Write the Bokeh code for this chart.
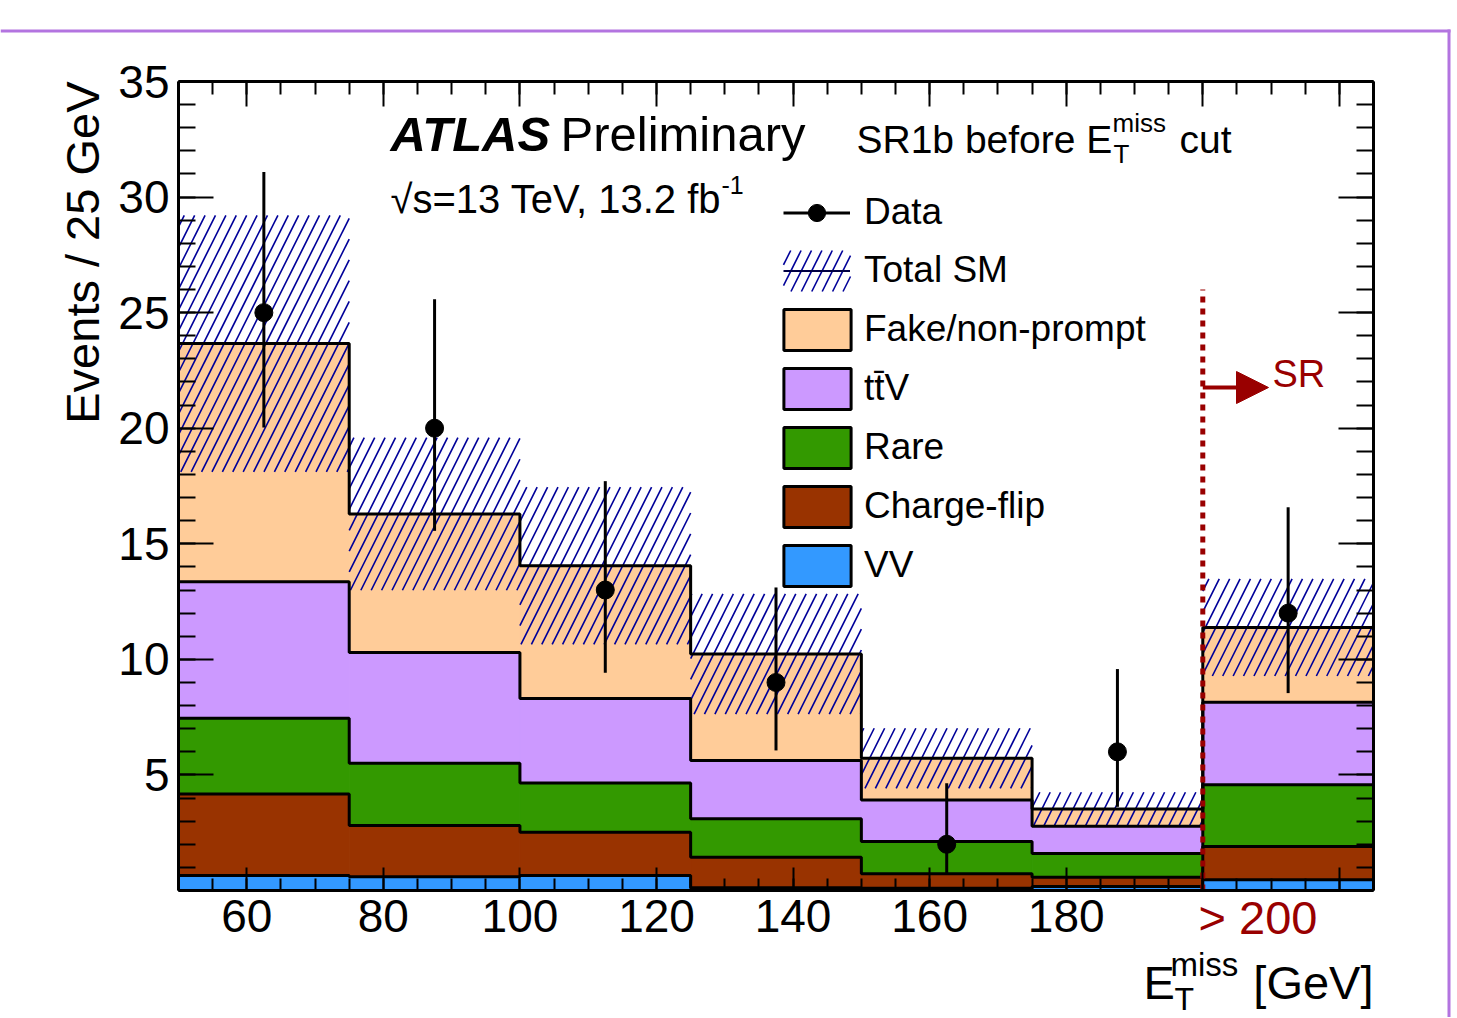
import numpy as np
from bokeh.plotting import figure
from bokeh.models import (FixedTicker, LinearAxis, Label, Legend, LegendItem,
                          Arrow, NormalHead, BoxAnnotation, Range1d, ColumnDataSource)
from bokeh.embed import file_html
from bokeh.resources import INLINE

# ---------------- data ----------------
bin_edges = [50, 75, 100, 125, 150, 175, 200, 225]
vv          = [0.65, 0.60, 0.65, 0.12, 0.10, 0.17, 0.46]
charge_flip = [3.53, 2.21, 1.87, 1.32, 0.62, 0.40, 1.44]
rare        = [3.27, 2.69, 2.13, 1.66, 1.40, 1.03, 2.68]
ttv         = [5.91, 4.80, 3.66, 2.52, 1.80, 1.18, 3.56]
fake        = [10.30, 5.99, 5.74, 4.61, 1.80, 0.75, 3.24]
sm_unc      = [5.55, 3.30, 3.40, 2.60, 1.30, 0.72, 2.10]
data_counts = [25, 20, 13, 9, 2, 6, 12]
data_err_up = [6.08, 5.58, 4.71, 4.11, 2.64, 3.58, 4.58]
data_err_dn = [4.97, 4.44, 3.58, 2.94, 1.29, 2.38, 3.46]
x_tick_labels = {60: "60", 80: "80", 100: "100", 120: "120", 140: "140",
                 160: "160", 180: "180", 200: "", 220: ""}
y_tick_labels = {0: "", 5: "5", 10: "10", 15: "15", 20: "20", 25: "25", 30: "30", 35: "35"}
sr_edge = 200
sr_line_top = 26.0
X_MIN, X_MAX, Y_MIN, Y_MAX = 50, 225, 0, 35

FONT = "Liberation Sans"
comp_names = ["VV", "Charge-flip", "Rare", "t\u0074\u0304V", "Fake/non-prompt"]
comp_vals = [vv, charge_flip, rare, ttv, fake]
comp_colors = ["#3399ff", "#993300", "#339900", "#cc99ff", "#ffcc99"]
HATCH = "#000099"
RED = "#990000"

edges = np.array(bin_edges, dtype=float)
left, right = edges[:-1], edges[1:]
centers = 0.5 * (left + right)

# canvas and the drawn frame position (pixels)
W, H = 1452, 1017
FL, FR, FT, FB = 178.0, 1373.0, 81.0, 890.0
SX = (FR - FL) / (X_MAX - X_MIN)
SY = (FB - FT) / (Y_MAX - Y_MIN)
def px2x(px):
    return X_MIN + (np.asarray(px) - FL) / SX
def px2y(py):
    return Y_MIN + (FB - np.asarray(py)) / SY
def x2px(x):
    return FL + (np.asarray(x) - X_MIN) * SX
def y2px(y):
    return FB - (np.asarray(y) - Y_MIN) * SY

p = figure(width=W, height=H, x_range=Range1d(float(px2x(0)), float(px2x(W))),
           y_range=Range1d(float(px2y(H)), float(px2y(0))),
           output_backend="svg", toolbar_location=None,
           min_border_left=0, min_border_right=0, min_border_top=0, min_border_bottom=0)
p.grid.visible = False
p.outline_line_color = None
p.background_fill_color = "white"
p.border_fill_color = "white"

xt = FixedTicker(ticks=list(np.arange(60, 221, 20)), minor_ticks=list(np.arange(50, 226, 5)))
yt = FixedTicker(ticks=list(np.arange(0, 36, 5)), minor_ticks=list(np.arange(0, 36, 1)))

def style_axis(ax, ticker, maj, mnr, loc, bounds, labels=True):
    ax.ticker = ticker
    ax.fixed_location = loc
    ax.bounds = bounds
    ax.axis_line_width = 3
    ax.axis_line_color = "black"
    ax.major_tick_in = maj
    ax.major_tick_out = 0
    ax.minor_tick_in = mnr
    ax.minor_tick_out = 0
    ax.major_tick_line_width = 2
    ax.minor_tick_line_width = 2
    ax.major_tick_line_color = "black"
    ax.minor_tick_line_color = "black"
    ax.major_label_text_font = FONT
    if labels:
        ax.major_label_text_font_size = "46px"
        ax.major_label_text_color = "black"
    else:
        ax.major_label_text_font_size = "1px"
        ax.major_label_text_color = None

style_axis(p.xaxis[0], xt, 23, 12, Y_MIN, (X_MIN, X_MAX))
p.xaxis[0].major_label_overrides = x_tick_labels
p.xaxis[0].major_label_standoff = 9
style_axis(p.yaxis[0], yt, 35, 17, X_MIN, (Y_MIN, Y_MAX))
p.yaxis[0].major_label_overrides = y_tick_labels
p.yaxis[0].major_label_standoff = 9

top_ax = LinearAxis()
style_axis(top_ax, xt, 25, 13, Y_MAX, (X_MIN, X_MAX), labels=False)
p.add_layout(top_ax, "above")
right_ax = LinearAxis()
style_axis(right_ax, yt, 35, 17, X_MAX, (Y_MIN, Y_MAX), labels=False)
p.add_layout(right_ax, "right")

# ROOT-style steep "/" hatch: segments clipped to pixel rectangles, converted to data units
HATCH_D = 10.4
def hatch_lines(X0, X1, Ptop, Pbot):
    segs = []
    k0 = int(np.floor((X0 + Ptop / 2) / HATCH_D))
    k1 = int(np.ceil((X1 + Pbot / 2) / HATCH_D))
    for k in range(k0, k1 + 1):
        u = k * HATCH_D
        a = max(Ptop, 2 * (u - X1))
        b = min(Pbot, 2 * (u - X0))
        if b > a:
            segs.append((u - a / 2, a, u - b / 2, b))
    return segs

# ---------------- stack ----------------
cum = np.zeros(len(centers))
levels = []
for vals, col in zip(comp_vals, comp_colors):
    v = np.array(vals)
    p.quad(left=left, right=right, bottom=cum.copy(), top=cum + v,
           fill_color=col, line_color=col, line_width=1)
    cum = cum + v
    levels.append(cum.copy())

total = cum.copy()
unc = np.array(sm_unc)
band_lo, band_hi = total - unc, total + unc
segs = []
for i in range(len(centers)):
    segs += hatch_lines(float(x2px(left[i])), float(x2px(right[i])),
                        float(y2px(band_hi[i])), float(y2px(band_lo[i])))
segs = np.array(segs)
p.segment(x0=px2x(segs[:, 0]), y0=px2y(segs[:, 1]), x1=px2x(segs[:, 2]), y1=px2y(segs[:, 3]),
          line_color=HATCH, line_width=1.6)

for lev in levels:
    p.step(x=edges, y=np.append(lev, lev[-1]), mode="after", line_color="black", line_width=3)

# ---------------- data ----------------
dc = np.array(data_counts, dtype=float)
src = ColumnDataSource(dict(x=centers, y=dc, lo=dc - np.array(data_err_dn), hi=dc + np.array(data_err_up)))
p.segment(x0="x", y0="lo", x1="x", y1="hi", source=src, line_color="black", line_width=3)
p.scatter(x="x", y="y", source=src, size=18, fill_color="black", line_color="black")

# SR line and arrow
p.segment(x0=[sr_edge], y0=[Y_MIN], x1=[sr_edge], y1=[sr_line_top], line_color=RED,
          line_width=5, line_dash="6 6")
p.add_layout(Arrow(x_start=sr_edge, y_start=float(px2y(387)), x_end=float(px2x(1268)), y_end=float(px2y(387)),
                   line_color=RED, line_width=4,
                   end=NormalHead(size=32, fill_color=RED, line_color=RED)))

# ---------------- legends (hidden legend-only renderers) ----------------
leg_src = ColumnDataSource(dict(l=left[:1], r=right[:1], b=[0.0], t=[total[0]], x=centers[:1], y=dc[:1]))
def hidden(r):
    r.visible = False
    return r
leg_data_line = hidden(p.segment(x0="l", y0="b", x1="r", y1="t", source=leg_src, line_color="black", line_width=3))
leg_data_pt = hidden(p.scatter(x="x", y="y", source=leg_src, size=18, fill_color="black", line_color="black"))
leg_sm_line = hidden(p.line(x="x", y="y", source=leg_src, line_color="#000044", line_width=2))

# hatch of the "Total SM" legend box
lsegs = np.array(hatch_lines(783.0, 850.0, 250.0, 291.0))
p.segment(x0=px2x(lsegs[:, 0]), y0=px2y(lsegs[:, 1]), x1=px2x(lsegs[:, 2]), y1=px2y(lsegs[:, 3]),
          line_color=HATCH, line_width=1.6)

common = dict(padding=0, margin=0, label_text_font=FONT, label_text_font_size="37px",
              label_text_baseline="middle", label_text_color="black", border_line_color=None,
              background_fill_alpha=0, inactive_fill_alpha=0, click_policy="none")

LAB_H = 43
legend_a = Legend(items=[LegendItem(label="Data", renderers=[leg_data_line, leg_data_pt]),
                         LegendItem(label="Total SM", renderers=[leg_sm_line])],
                  location=(783, H - (212 - LAB_H / 2 + 2 * LAB_H + 15)), glyph_width=67, glyph_height=LAB_H,
                  label_height=LAB_H, label_standoff=14, spacing=15, **common)
p.add_layout(legend_a, "center")

items = []
for name, col in reversed(list(zip(comp_names, comp_colors))):
    r = hidden(p.quad(left="l", right="r", top="t", bottom="b", source=leg_src,
                      fill_color=col, line_color="black", line_width=3))
    items.append(LegendItem(label=name, renderers=[r]))
GH = 51
legend_b = Legend(items=items, location=(775, H - (329 - GH / 2 + 5 * GH + 4 * 8)),
                  glyph_width=84, glyph_height=GH, label_height=LAB_H, label_standoff=5,
                  spacing=8, **common)
p.add_layout(legend_b, "center")

# ---------------- texts ----------------
def lab(px, py_base, text, fs, style="normal", color="black", align="left"):
    """text whose alphabetic baseline sits at page pixel py_base"""
    p.add_layout(Label(x=float(px2x(px)), y=float(px2y(py_base - 0.34 * fs)), text=text, text_font=FONT,
                       text_font_size=f"{fs}px", text_font_style=style, text_color=color,
                       text_align=align, text_baseline="middle"))

lab(390, 150, "ATLAS", 49, style="bold italic")
lab(560, 150, "Preliminary", 49)
lab(856, 152, "SR1b before E", 39)
lab(1112, 131, "miss", 26)
lab(1113, 162, "T", 26)
lab(1179, 152, "cut", 39)
lab(390, 212, "\u221as=13 TeV, 13.2 fb", 40)
lab(721, 193, "-1", 25)
lab(1272, 386, "SR", 38, color=RED)

p.add_layout(Label(x=float(px2x(98 - 0.34 * 47)), y=Y_MAX, text="Events / 25 GeV", text_font=FONT,
                   text_font_size="47px", text_color="black", text_align="right",
                   text_baseline="middle", angle=np.pi / 2))
lab(1198, 933, "> 200", 47, color=RED)
lab(FR, 998, "[GeV]", 47, align="right")
lab(1143, 998, "E", 47)
lab(1170, 975, "miss", 33)
lab(1174, 1009, "T", 32)

# purple page frame
purple = "#b374e0"
p.add_layout(BoxAnnotation(left=float(px2x(0)), right=float(px2x(1450)), top=float(px2y(29)),
                           bottom=float(px2y(32)), fill_color=purple, fill_alpha=1, line_color=None))
p.add_layout(BoxAnnotation(left=float(px2x(1447)), right=float(px2x(1450)), top=float(px2y(29)),
                           bottom=float(px2y(H)), fill_color=purple, fill_alpha=1, line_color=None))

open("out.html", "w").write(file_html(p, INLINE))
